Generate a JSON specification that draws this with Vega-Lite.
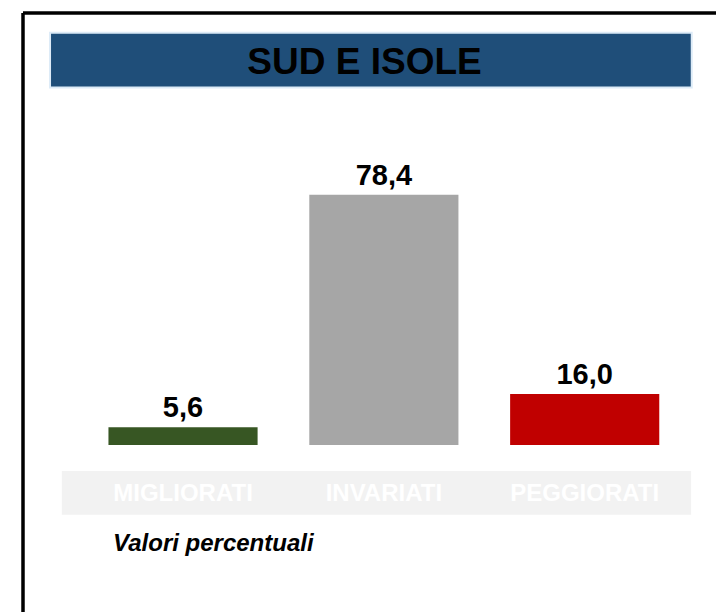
{
  "$schema": "https://vega.github.io/schema/vega-lite/v6.json",
  "width": 718,
  "height": 614,
  "autosize": {"type": "fit", "contains": "padding"},
  "padding": {"left": 21, "top": 11, "right": 0, "bottom": 0},
  "background": "white",
  "config": {
    "view": {"stroke": null},
    "font": "Liberation Sans",
    "locale": {"number": {"decimal": ",", "thousands": ".", "grouping": [3], "currency": ["€", ""]}}
  },
  "resolve": {"scale": {"x": "independent"}},
  "layer": [
    {
      "data": {"values": [{"title": "SUD E ISOLE", "note": "Valori percentuali"}]},
      "layer": [
        {
          "mark": {"type": "rule", "color": "black", "strokeWidth": 3.5},
          "encoding": {
            "x": {"datum": 0, "type": "quantitative", "scale": {"domain": [0, 100], "nice": false, "zero": false}, "axis": null}
          }
        },
        {
          "mark": {"type": "rule", "color": "black", "strokeWidth": 3.5},
          "encoding": {
            "y": {"datum": 135.33, "type": "quantitative", "scale": {"domain": [-52.27, 135.33], "nice": false, "zero": false}, "axis": null}
          }
        },
        {
          "mark": {"type": "rect", "fill": "#1F4E79", "stroke": "#DDEBF7", "strokeWidth": 2},
          "encoding": {
            "x": {"datum": 3.9, "type": "quantitative", "scale": {"domain": [0, 100], "nice": false, "zero": false}, "axis": null},
            "x2": {"datum": 96.5},
            "y": {"datum": 129.11, "type": "quantitative", "scale": {"domain": [-52.27, 135.33], "nice": false, "zero": false}, "axis": null},
            "y2": {"datum": 112.0}
          }
        },
        {
          "mark": {"type": "text", "fontWeight": "bold", "fontSize": 37, "color": "black", "align": "center", "baseline": "alphabetic"},
          "encoding": {
            "x": {"datum": 49.28, "type": "quantitative", "scale": {"domain": [0, 100], "nice": false, "zero": false}, "axis": null},
            "y": {"datum": 116.36, "type": "quantitative", "scale": {"domain": [-52.27, 135.33], "nice": false, "zero": false}, "axis": null},
            "text": {"field": "title"}
          }
        },
        {
          "mark": {"type": "rect", "fill": "#F2F2F2"},
          "encoding": {
            "x": {"datum": 5.6, "type": "quantitative", "scale": {"domain": [0, 100], "nice": false, "zero": false}, "axis": null},
            "x2": {"datum": 96.41},
            "y": {"datum": -8.09, "type": "quantitative", "scale": {"domain": [-52.27, 135.33], "nice": false, "zero": false}, "axis": null},
            "y2": {"datum": -21.78}
          }
        },
        {
          "mark": {"type": "text", "fontWeight": "bold", "fontStyle": "italic", "fontSize": 24, "color": "black", "align": "left", "baseline": "alphabetic"},
          "encoding": {
            "x": {"datum": 13.0, "type": "quantitative", "scale": {"domain": [0, 100], "nice": false, "zero": false}, "axis": null},
            "y": {"datum": -33.29, "type": "quantitative", "scale": {"domain": [-52.27, 135.33], "nice": false, "zero": false}, "axis": null},
            "text": {"field": "note"}
          }
        }
      ]
    },
    {
      "data": {
        "values": [
          {"categoria": "MIGLIORATI", "valore": 5.6},
          {"categoria": "INVARIATI", "valore": 78.4},
          {"categoria": "PEGGIORATI", "valore": 16.0}
        ]
      },
      "encoding": {
        "x": {
          "field": "categoria",
          "type": "nominal",
          "sort": null,
          "scale": {"paddingInner": 0.2574, "paddingOuter": 0.354, "align": 0.601},
          "axis": null
        }
      },
      "layer": [
        {
          "mark": {"type": "bar"},
          "encoding": {
            "y": {"field": "valore", "type": "quantitative", "scale": {"domain": [-52.27, 135.33], "nice": false, "zero": false}, "axis": null},
            "color": {
              "field": "categoria",
              "type": "nominal",
              "scale": {"domain": ["MIGLIORATI", "INVARIATI", "PEGGIORATI"], "range": ["#375623", "#A6A6A6", "#C00000"]},
              "legend": null
            }
          }
        },
        {
          "mark": {"type": "text", "fontWeight": "bold", "fontSize": 29, "color": "black", "align": "center", "baseline": "alphabetic", "dy": -10},
          "encoding": {
            "y": {"field": "valore", "type": "quantitative", "scale": {"domain": [-52.27, 135.33], "nice": false, "zero": false}, "axis": null},
            "text": {"field": "valore", "type": "quantitative", "format": ".1f"}
          }
        },
        {
          "mark": {"type": "text", "fontWeight": "bold", "fontSize": 24, "color": "white", "align": "center", "baseline": "alphabetic"},
          "encoding": {
            "y": {"datum": -17.42, "type": "quantitative", "scale": {"domain": [-52.27, 135.33], "nice": false, "zero": false}, "axis": null},
            "text": {"field": "categoria"}
          }
        }
      ]
    }
  ]
}
